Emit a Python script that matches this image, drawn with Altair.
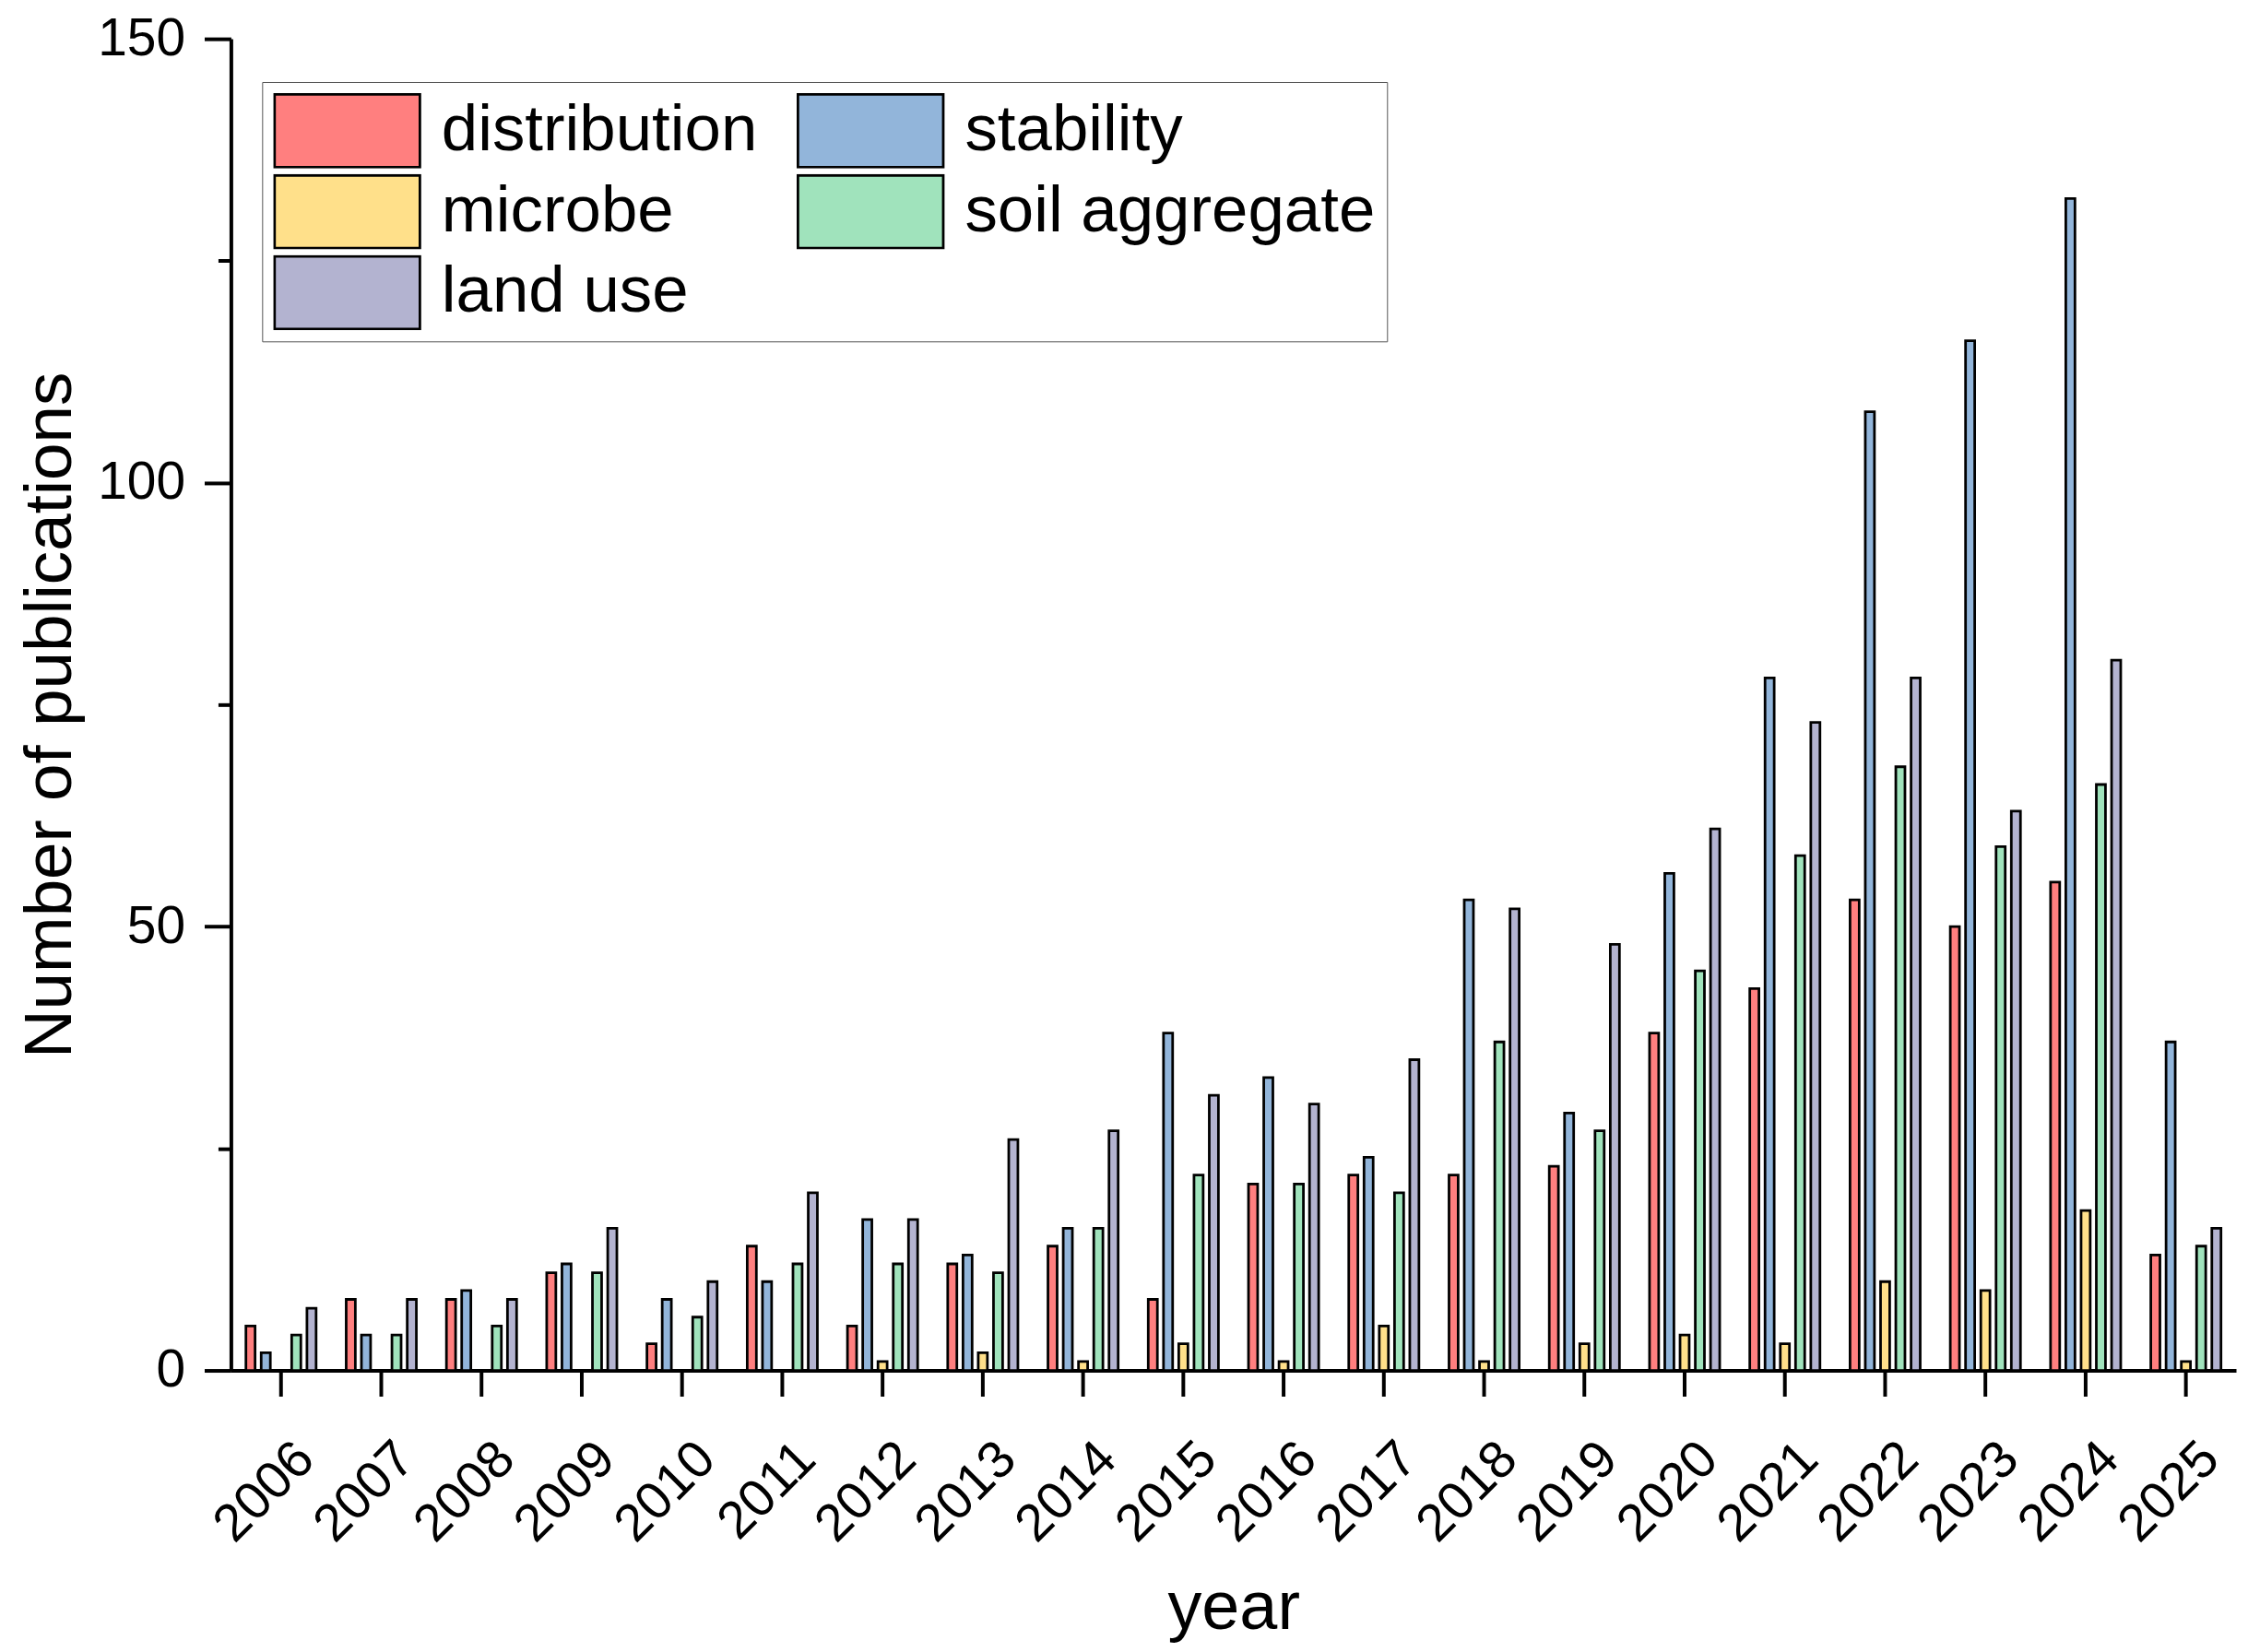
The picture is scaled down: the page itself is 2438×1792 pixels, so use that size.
import altair as alt
import pandas as pd

years = [str(y) for y in range(2006, 2026)]
series_names = ["distribution", "stability", "microbe", "soil aggregate", "land use"]
colors = ["#FF7F7F", "#92B5DA", "#FFE08A", "#A0E3BC", "#B3B3D0"]

distribution = [5, 8, 8, 11, 3, 14, 5, 12, 14, 8, 21, 22, 22, 23, 38, 43, 53, 50, 55, 13]
stability = [2, 4, 9, 12, 8, 10, 17, 13, 16, 38, 33, 24, 53, 29, 56, 78, 108, 116, 132, 37]
microbe = [0, 0, 0, 0, 0, 0, 1, 2, 1, 3, 1, 5, 1, 3, 4, 3, 10, 9, 18, 1]
soil_aggregate = [4, 4, 5, 11, 6, 12, 12, 11, 16, 22, 21, 20, 37, 27, 45, 58, 68, 59, 66, 14]
land_use = [7, 8, 8, 16, 10, 20, 17, 26, 27, 31, 30, 35, 52, 48, 61, 73, 78, 63, 80, 16]

y_major = [0, 50, 100, 150]
y_minor = [25, 75, 125]

values = [distribution, stability, microbe, soil_aggregate, land_use]
rows = []
for name, vals in zip(series_names, values):
    for yr, v in zip(years, vals):
        if v > 0:
            rows.append({"year": yr, "series": name, "value": v})
df = pd.DataFrame(rows)

FONT = "Liberation Sans"
yscale = alt.Scale(domain=[0, 150], nice=False, zero=True)

legend = alt.Legend(
    title=None,
    orient="none",
    direction="horizontal",
    legendX=34,
    legendY=47,
    columns=2,
    symbolType="M-1,-0.5H1V0.5H-1Z",
    symbolSize=24964,
    symbolStrokeColor="black",
    symbolStrokeWidth=2.8,
    symbolOpacity=1,
    labelFont=FONT,
    labelFontSize=71,
    labelColor="black",
    labelLimit=1500,
    labelOffset=22,
    columnPadding=42,
    rowPadding=6,
    clipHeight=82,
    padding=12,
    strokeColor="#555555",
    fillColor="white",
)

bars = alt.Chart(df).mark_bar(stroke="black", strokeWidth=2.8, opacity=1).encode(
    x=alt.X(
        "year:N",
        scale=alt.Scale(domain=years, paddingInner=0.3, paddingOuter=0.15),
        axis=alt.Axis(
            title="year",
            titleFontSize=74,
            titleFont=FONT,
            titleFontWeight="normal",
            titleX=1090,
            titleY=281,
            titleAlign="center",
            titleBaseline="alphabetic",
            labelAngle=315,
            labelAlign="right",
            labelBaseline="alphabetic",
            labelOffset=39,
            labelPadding=71,
            labelFontSize=57,
            labelFont=FONT,
            tickSize=28,
            tickWidth=4,
            domainWidth=4,
        ),
    ),
    xOffset=alt.XOffset(
        "series:N",
        scale=alt.Scale(domain=series_names, paddingInner=0.4, paddingOuter=0),
    ),
    y=alt.Y(
        "value:Q",
        scale=yscale,
        axis=alt.Axis(
            values=y_major,
            orient="left",
            title="Number of publications",
            titleFontSize=73,
            titleFont=FONT,
            titleFontWeight="normal",
            titleX=-174,
            titleY=735,
            titleAngle=270,
            titleAlign="center",
            titleBaseline="alphabetic",
            labelFontSize=57,
            labelFont=FONT,
            labelPadding=21,
            tickSize=29,
            tickWidth=4,
            domainWidth=4,
            grid=False,
        ),
    ),
    color=alt.Color(
        "series:N",
        scale=alt.Scale(domain=series_names, range=colors),
        legend=legend,
    ),
)

minor = alt.Chart(df).mark_point(opacity=0).encode(
    y=alt.Y(
        "value:Q",
        scale=yscale,
        axis=alt.Axis(
            values=y_minor,
            orient="left",
            title=None,
            labels=False,
            domain=False,
            tickSize=14,
            tickWidth=4,
            grid=False,
        ),
    )
)

chart = (
    alt.layer(bars, minor)
    .resolve_scale(y="shared")
    .resolve_axis(y="independent")
    .properties(
        width=2180,
        height=1448,
        autosize=alt.AutoSizeParams(type="none"),
        padding={"left": 243, "top": 32, "right": 5, "bottom": 302},
        background="white",
    )
    .configure_view(stroke=None)
    .configure_axis(
        domainColor="black",
        tickColor="black",
        labelColor="black",
        titleColor="black",
        grid=False,
    )
)

chart.save("out.html", embed_options={"renderer": "svg", "actions": False})
